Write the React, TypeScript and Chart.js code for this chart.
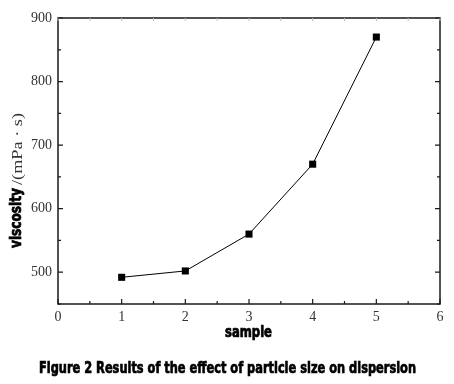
import React, { useEffect, useRef } from "react";
import { Chart, registerables } from "chart.js";

Chart.register(...registerables);

const samples = [1, 2, 3, 4, 5];
const viscosity = [492, 502, 560, 670, 870];
const yTicks = [500, 600, 700, 800, 900];
const xTicks = [0, 1, 2, 3, 4, 5, 6];
const yMinor = [450, 550, 650, 750, 850];
const xMinor = [0.5, 1.5, 2.5, 3.5, 4.5, 5.5];
const xTitle = "sample";
const yTitleBold = "viscosity";
const yTitleUnit = "/(mPa · s)";
const caption = "Figure 2 Results of the effect of particle size on dispersion";

const CONDENSED = "'DejaVu Sans Condensed', 'DejaVu Sans', sans-serif";

function drawFitted(ctx: CanvasRenderingContext2D, text: string, x: number, y: number, width: number, font: string, heavy = true) {
  ctx.save();
  ctx.font = font;
  const w = ctx.measureText(text).width;
  ctx.translate(x, y);
  ctx.scale(width / w, 1);
  ctx.textAlign = "left";
  ctx.textBaseline = "middle";
  ctx.fillText(text, 0, 0);
  if (heavy) {
    ctx.strokeStyle = ctx.fillStyle as string;
    ctx.lineWidth = 0.7;
    ctx.strokeText(text, 0, 0);
  }
  ctx.restore();
}

const framePlugin = {
  id: "frame",
  afterDraw(chart: any) {
    const ctx: CanvasRenderingContext2D = chart.ctx;
    const { left, right, top, bottom } = chart.chartArea;
    const xs = chart.scales.x;
    const ys = chart.scales.y;
    ctx.save();
    ctx.strokeStyle = "#1a1a1a";
    ctx.lineWidth = 1.5;
    ctx.strokeRect(left, top, right - left, bottom - top);
    ctx.lineWidth = 1.2;
    ctx.beginPath();
    const major = 5, minor = 3;
    for (const v of yTicks) {
      const p = ys.getPixelForValue(v);
      ctx.moveTo(left, p); ctx.lineTo(left + major, p);
      ctx.moveTo(right, p); ctx.lineTo(right - major, p);
    }
    for (const v of yMinor) {
      const p = ys.getPixelForValue(v);
      ctx.moveTo(left, p); ctx.lineTo(left + minor, p);
      ctx.moveTo(right, p); ctx.lineTo(right - minor, p);
    }
    for (const v of xTicks) {
      const p = xs.getPixelForValue(v);
      ctx.moveTo(p, bottom); ctx.lineTo(p, bottom - major);
    }
    for (const v of xMinor) {
      const p = xs.getPixelForValue(v);
      ctx.moveTo(p, bottom); ctx.lineTo(p, bottom - minor);
    }
    ctx.stroke();
    ctx.strokeStyle = "#bbbbbb";
    ctx.lineWidth = 1;
    ctx.beginPath();
    for (const v of [...xTicks, ...xMinor]) {
      const p = xs.getPixelForValue(v);
      ctx.moveTo(p, top); ctx.lineTo(p, top + 3);
    }
    ctx.stroke();

    ctx.fillStyle = "#000";
    drawFitted(ctx, xTitle, 225, 333, 47, `bold 15px ${CONDENSED}`);
    drawFitted(ctx, caption, 39, 369, 377, `bold 16px ${CONDENSED}`);
    ctx.save();
    ctx.translate(17, 248);
    ctx.rotate(-Math.PI / 2);
    drawFitted(ctx, yTitleBold, 0, 0, 60, `bold 15px ${CONDENSED}`);
    ctx.fillStyle = "#333";
    ctx.font = "15px 'Liberation Serif', serif";
    const uw = ctx.measureText(yTitleUnit).width;
    ctx.save();
    ctx.translate(63, 1);
    ctx.scale(72 / uw, 1);
    ctx.textBaseline = "middle";
    ctx.textAlign = "left";
    ctx.fillText(yTitleUnit, 0, 0);
    ctx.restore();
    ctx.restore();
    ctx.restore();
  },
};

export default function App() {
  const ref = useRef<HTMLCanvasElement>(null);
  useEffect(() => {
    document.body.style.margin = "0";
    const chart = new Chart(ref.current!, {
      type: "line",
      data: {
        datasets: [
          {
            data: samples.map((s, i) => ({ x: s, y: viscosity[i] })),
            borderColor: "#000",
            borderWidth: 1,
            backgroundColor: "#000",
            pointStyle: "rect",
            pointRadius: 5,
            pointBorderWidth: 0,
            pointBackgroundColor: "#000",
            tension: 0,
          },
        ],
      },
      options: {
        animation: false,
        responsive: false,
        devicePixelRatio: 1,
        layout: { padding: { top: 18, right: 14, left: 0, bottom: 0 } },
        plugins: { legend: { display: false }, tooltip: { enabled: false }, title: { display: false } },
        scales: {
          x: {
            type: "linear",
            min: 0,
            max: 6,
            grid: { display: false, drawTicks: false },
            border: { display: false },
            afterBuildTicks: (s: any) => { s.ticks = xTicks.map((v) => ({ value: v })); },
            afterFit: (s: any) => { s.height = 80; },
            ticks: {
              padding: 5,
              color: "#333",
              font: { family: "'Liberation Serif', serif", size: 14 },
              maxRotation: 0,
            },
          },
          y: {
            type: "linear",
            min: 450,
            max: 900,
            grid: { display: false, drawTicks: false },
            border: { display: false },
            afterBuildTicks: (s: any) => { s.ticks = yTicks.map((v) => ({ value: v })); },
            afterFit: (s: any) => { s.width = 58; },
            ticks: {
              padding: 6,
              color: "#333",
              font: { family: "'Liberation Serif', serif", size: 14 },
            },
          },
        },
      },
      plugins: [framePlugin],
    });
    return () => chart.destroy();
  }, []);
  return (
    <canvas ref={ref} width={454} height={384} style={{ position: "absolute", left: 0, top: 0, display: "block" }} />
  );
}
